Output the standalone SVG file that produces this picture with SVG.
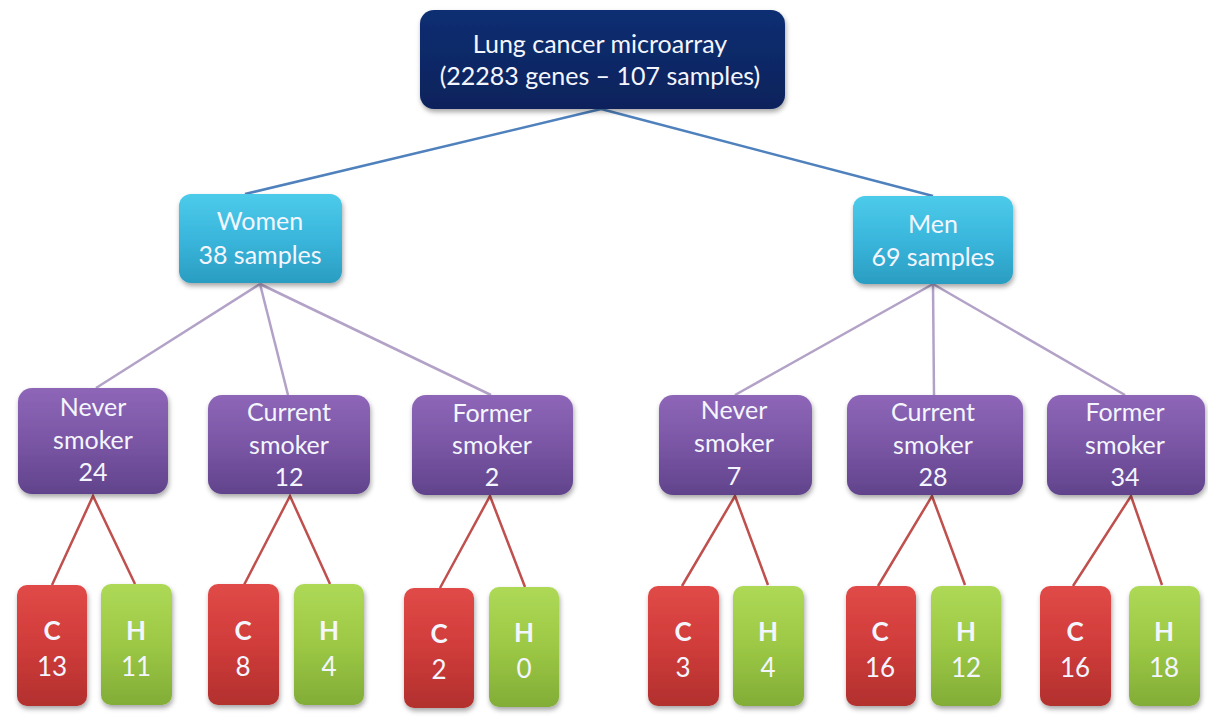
<svg xmlns="http://www.w3.org/2000/svg" width="1208" height="720" viewBox="0 0 1208 720">
<defs>
<linearGradient id="gNavy" x1="0" y1="0" x2="0" y2="1"><stop offset="0" stop-color="#0f2e72"/><stop offset="1" stop-color="#08235c"/></linearGradient>
<linearGradient id="gCyan" x1="0" y1="0" x2="0" y2="1"><stop offset="0" stop-color="#4ccbea"/><stop offset="0.5" stop-color="#3ab6dc"/><stop offset="1" stop-color="#2a9dc1"/></linearGradient>
<linearGradient id="gPurple" x1="0" y1="0" x2="0" y2="1"><stop offset="0" stop-color="#8e66b8"/><stop offset="0.5" stop-color="#7a56a5"/><stop offset="1" stop-color="#61438c"/></linearGradient>
<linearGradient id="gRed" x1="0" y1="0" x2="0" y2="1"><stop offset="0" stop-color="#e04a47"/><stop offset="0.5" stop-color="#d03c3a"/><stop offset="1" stop-color="#b2302e"/></linearGradient>
<linearGradient id="gGreen" x1="0" y1="0" x2="0" y2="1"><stop offset="0" stop-color="#add957"/><stop offset="0.5" stop-color="#9cc845"/><stop offset="1" stop-color="#82ad37"/></linearGradient>
<filter id="sh" x="-10%" y="-10%" width="125%" height="130%"><feDropShadow dx="1" dy="3" stdDeviation="2.5" flood-color="#000" flood-opacity="0.35"/></filter>
</defs>
<style>
text{font-family:Lato,"Liberation Sans",sans-serif;fill:#f4f6ff;text-anchor:middle;font-size:25px}
.b{font-weight:bold}
.s{font-size:26px}
.lb{fill:none;stroke:#4f81bd;stroke-width:2.5}
.lp{fill:none;stroke:#b3a2c7;stroke-width:2.5}
.lr{fill:none;stroke:#c0504d;stroke-width:2.5}
.navy{fill:url(#gNavy);filter:url(#sh)}
.cyan{fill:url(#gCyan);filter:url(#sh)}
.purple{fill:url(#gPurple);filter:url(#sh)}
.red{fill:url(#gRed);filter:url(#sh)}
.green{fill:url(#gGreen);filter:url(#sh)}
</style>
<g id="connectors">
<line class="lb" x1="601" y1="109" x2="245" y2="194"/>
<line class="lb" x1="601" y1="109" x2="933" y2="196"/>
<line class="lp" x1="260" y1="284" x2="96" y2="388"/>
<line class="lp" x1="260" y1="284" x2="288" y2="395"/>
<line class="lp" x1="260" y1="284" x2="491" y2="395"/>
<line class="lp" x1="933" y1="284" x2="735" y2="395"/>
<line class="lp" x1="933" y1="284" x2="934" y2="395"/>
<line class="lp" x1="933" y1="284" x2="1125" y2="395"/>
<polyline class="lr" points="52,585 93,496 135,584"/>
<polyline class="lr" points="244,585 290,496 330,584"/>
<polyline class="lr" points="440,588 490,496 525,587"/>
<polyline class="lr" points="682,586 735,496 768,585"/>
<polyline class="lr" points="878,586 932,496 965,585"/>
<polyline class="lr" points="1073,586 1131,496 1162,585"/>
</g>
<g id="root"><rect class="navy" x="420" y="10" width="365" height="99" rx="14"/><text x="600" y="53">Lung cancer microarray</text><text x="600" y="85">(22283 genes – 107 samples)</text></g>
<g id="women"><rect class="cyan" x="179" y="194" width="163" height="89" rx="12"/><text x="260" y="230">Women</text><text x="260" y="264">38 samples</text></g>
<g id="men"><rect class="cyan" x="853" y="196" width="160" height="88" rx="12"/><text x="933" y="233">Men</text><text x="933" y="266">69 samples</text></g>
<g id="w-never"><rect class="purple" x="18" y="388" width="150" height="106" rx="14"/><text x="93" y="416">Never</text><text x="93" y="449">smoker</text><text x="93" y="481">24</text></g>
<g id="w-current"><rect class="purple" x="208" y="395" width="162" height="99" rx="14"/><text x="289" y="421">Current</text><text x="289" y="454">smoker</text><text x="289" y="486">12</text></g>
<g id="w-former"><rect class="purple" x="412" y="395" width="161" height="100" rx="14"/><text x="492" y="422">Former</text><text x="492" y="454">smoker</text><text x="492" y="486">2</text></g>
<g id="m-never"><rect class="purple" x="659" y="395" width="153" height="100" rx="14"/><text x="734" y="419">Never</text><text x="734" y="452">smoker</text><text x="734" y="485">7</text></g>
<g id="m-current"><rect class="purple" x="847" y="395" width="176" height="100" rx="14"/><text x="933" y="421">Current</text><text x="933" y="454">smoker</text><text x="933" y="486">28</text></g>
<g id="m-former"><rect class="purple" x="1047" y="395" width="158" height="100" rx="14"/><text x="1125" y="421">Former</text><text x="1125" y="454">smoker</text><text x="1125" y="486">34</text></g>
<g id="w-never-c"><rect class="red" x="17" y="585" width="70" height="121" rx="10"/><text class="b s" x="52" y="640">C</text><text class="s" x="52" y="676">13</text></g>
<g id="w-never-h"><rect class="green" x="101" y="584" width="71" height="121" rx="10"/><text class="b s" x="136" y="640">H</text><text class="s" x="136" y="676">11</text></g>
<g id="w-current-c"><rect class="red" x="208" y="584" width="71" height="121" rx="10"/><text class="b s" x="243" y="640">C</text><text class="s" x="243" y="676">8</text></g>
<g id="w-current-h"><rect class="green" x="294" y="584" width="70" height="121" rx="10"/><text class="b s" x="329" y="640">H</text><text class="s" x="329" y="676">4</text></g>
<g id="w-former-c"><rect class="red" x="404" y="588" width="70" height="120" rx="10"/><text class="b s" x="439" y="643">C</text><text class="s" x="439" y="679">2</text></g>
<g id="w-former-h"><rect class="green" x="489" y="587" width="70" height="120" rx="10"/><text class="b s" x="524" y="642">H</text><text class="s" x="524" y="678">0</text></g>
<g id="m-never-c"><rect class="red" x="648" y="586" width="71" height="120" rx="10"/><text class="b s" x="683" y="641">C</text><text class="s" x="683" y="677">3</text></g>
<g id="m-never-h"><rect class="green" x="733" y="586" width="71" height="120" rx="10"/><text class="b s" x="768" y="641">H</text><text class="s" x="768" y="677">4</text></g>
<g id="m-current-c"><rect class="red" x="846" y="586" width="70" height="120" rx="10"/><text class="b s" x="880" y="641">C</text><text class="s" x="880" y="677">16</text></g>
<g id="m-current-h"><rect class="green" x="931" y="586" width="70" height="120" rx="10"/><text class="b s" x="966" y="641">H</text><text class="s" x="966" y="677">12</text></g>
<g id="m-former-c"><rect class="red" x="1040" y="586" width="71" height="120" rx="10"/><text class="b s" x="1075" y="641">C</text><text class="s" x="1075" y="677">16</text></g>
<g id="m-former-h"><rect class="green" x="1129" y="586" width="71" height="120" rx="10"/><text class="b s" x="1164" y="641">H</text><text class="s" x="1164" y="677">18</text></g>
</svg>
